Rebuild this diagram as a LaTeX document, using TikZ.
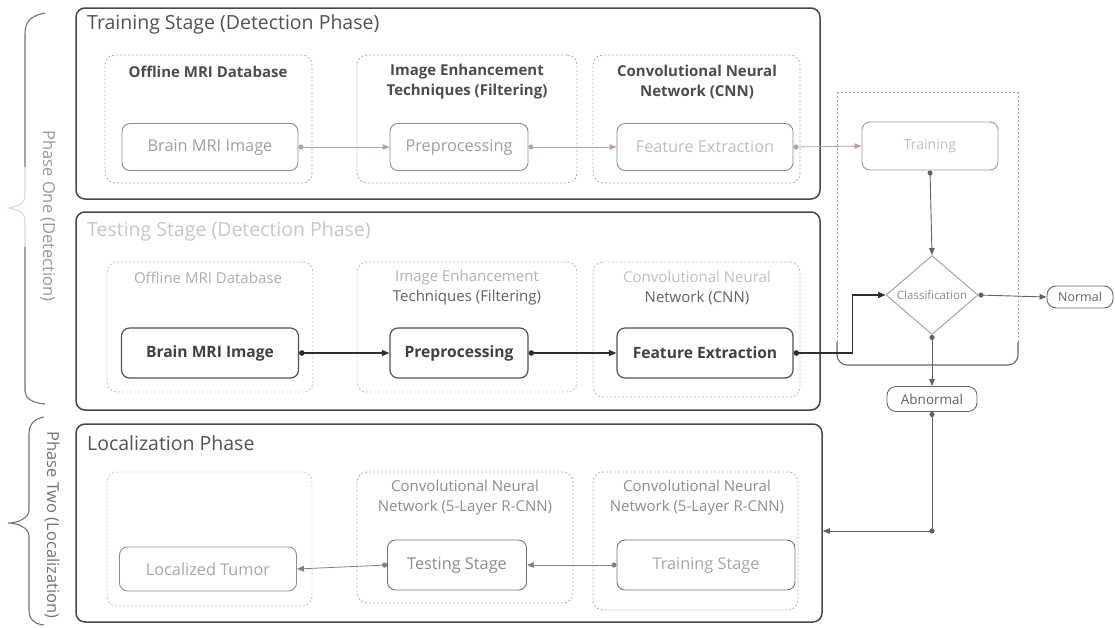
\documentclass[tikz,border=0pt]{standalone}
\usepackage{fontspec}
\setmainfont{Open Sans}
\usetikzlibrary{arrows.meta,shapes.geometric}
\definecolor{pinkline}{RGB}{185,160,172}
\begin{document}
\begin{tikzpicture}[x=1pt,y=-1pt,
  bigbox/.style={draw=black!72, line width=1.5pt, rounded corners=9pt, inner sep=0pt},
  grp/.style={draw=black!30, dash pattern=on 2pt off 2pt, line width=0.9pt, rounded corners=10pt, inner sep=0pt},
  box/.style={draw=black!45, rounded corners=8pt, line width=0.9pt, inner sep=0pt, text=black!38, font=\fontsize{16.3}{19}\selectfont},
  boldbox/.style={draw=black!68, rounded corners=8pt, line width=1.2pt, inner sep=0pt, text=black!75, font=\fontsize{15.6}{19}\selectfont\bfseries},
  maintitle/.style={anchor=west, inner sep=0pt, font=\fontsize{19.5}{22}\selectfont},
  gtitle/.style={align=center, inner sep=0pt, font=\fontsize{15}{20}\selectfont},
  gbtitle/.style={align=center, inner sep=0pt, text=black!70, font=\fontsize{15}{20}\selectfont\bfseries},
  pill/.style={draw=black!60, rounded corners=9pt, line width=0.9pt, inner sep=0pt, text=black!62, font=\fontsize{12.5}{14}\selectfont},
  lightconn/.style={draw=pinkline, line width=0.8pt, {Circle[length=5pt]}-{Triangle[length=7pt,width=5.5pt]}},
  midconn/.style={draw=black!62, line width=0.9pt, {Circle[length=5pt]}-{Triangle[length=7pt,width=5.5pt]}},
  darkconn/.style={draw=black!82, line width=1.2pt, {Circle[length=5.5pt]}-{Triangle[length=7.5pt,width=6pt]}},
  bracestyle/.style={draw=black!55, line width=1.1pt},
  bracelabel/.style={rotate=-90, inner sep=0pt, font=\fontsize{16.5}{19}\selectfont}
]
\useasboundingbox (0,0) rectangle (1115,627);

% ---------- left braces ----------
\draw[bracestyle] (45,13) .. controls (30,16) and (25,22) .. (25,34) -- (25,167);
\draw[bracestyle, draw=black!15] (25,167) -- (25,196) .. controls (25,204) and (15,208) .. (7,208)
  .. controls (15,208) and (25,212) .. (25,220) -- (25,247);
\draw[bracestyle] (25,247) -- (25,391) .. controls (25,398) and (32,403) .. (45,404);
\node[bracelabel, text=black!40] (lab1) at (48,216) {Phase One (Detection)};

\draw[bracestyle] (44,417) .. controls (34,419) and (29,424) .. (29,434) -- (29,510)
  .. controls (29,518) and (18,523) .. (8,523)
  .. controls (18,523) and (29,528) .. (29,536) -- (29,610) .. controls (29,619) and (34,624) .. (44,625);
\node[bracelabel, text=black!55] (lab2) at (52,525) {Phase Two (Localization)};

% ---------- stage boxes ----------
\node[bigbox, minimum width=744pt, minimum height=191pt] (trainbox) at (448,103.5) {};
\node[bigbox, minimum width=744pt, minimum height=198pt] (testbox) at (448,311) {};
\node[bigbox, minimum width=746pt, minimum height=198pt] (loc) at (449,523) {};

\node[maintitle, text=black!68] (t1) at (87,24) {Training Stage (Detection Phase)};
\node[maintitle, text=black!22] (t2) at (87,231) {Testing Stage (Detection Phase)};
\node[maintitle, text=black!68] (t3) at (87,443) {Localization Phase};

% ---------- training row ----------
\node[grp, minimum width=207pt, minimum height=128pt] (g11) at (208.5,119) {};
\node[grp, minimum width=220pt, minimum height=128pt] (g12) at (467,119) {};
\node[grp, minimum width=207pt, minimum height=128pt] (g13) at (696.5,119) {};
\node[gbtitle] (g11t) at (208,72) {Offline MRI Database};
\node[gbtitle] (g12t) at (467,82) {Image Enhancement\\Techniques (Filtering)};
\node[gbtitle] (g13t) at (697,82) {Convolutional Neural\\Network (CNN)};

\node[box, minimum width=176pt, minimum height=47pt] (n11) at (210,147) {Brain MRI Image};
\node[box, minimum width=138pt, minimum height=47pt] (n12) at (459,147) {Preprocessing};
\node[box, minimum width=176pt, minimum height=47pt, text=black!25] (n13) at (705,147) {Feature Extraction};

% ---------- testing row ----------
\node[grp, draw=black!25, minimum width=206pt, minimum height=130pt] (g21) at (210,327) {};
\node[grp, draw=black!25, minimum width=220pt, minimum height=130pt] (g22) at (467,327) {};
\node[grp, draw=black!25, minimum width=207pt, minimum height=135pt] (g23) at (696.5,329.5) {};
\node[gtitle, text=black!32] (g21t) at (208,278) {Offline MRI Database};
\node[gtitle] (g22t) at (467,288) {\textcolor{black!30}{Image Enhancement}\\\textcolor{black!62}{Techniques (Filtering)}};
\node[gtitle] (g23t) at (697,288) {\textcolor{black!25}{Convolutional Neural}\\\textcolor{black!62}{Network (CNN)}};

\node[boldbox, minimum width=177pt, minimum height=50pt] (n21) at (210,353) {Brain MRI Image};
\node[boldbox, minimum width=138pt, minimum height=50pt] (n22) at (459,353) {Preprocessing};
\node[boldbox, minimum width=176pt, minimum height=50pt] (n23) at (705,353) {Feature Extraction};

% ---------- localization row ----------
\node[grp, draw=black!22, minimum width=205pt, minimum height=134pt] (g31) at (209.5,539) {};
\node[grp, minimum width=216pt, minimum height=131pt] (g32) at (465,537.5) {};
\node[grp, minimum width=205pt, minimum height=138pt] (g33) at (695.5,541) {};
\node[gtitle, text=black!45] (g32t) at (465,498) {Convolutional Neural\\Network (5-Layer R-CNN)};
\node[gtitle, text=black!45] (g33t) at (697,498) {Convolutional Neural\\Network (5-Layer R-CNN)};

\node[box, minimum width=177pt, minimum height=44pt, text=black!35] (n31) at (208,569) {Localized Tumor};
\node[box, draw=black!55, minimum width=139pt, minimum height=50pt, text=black!45] (n32) at (457,565) {Testing Stage};
\node[box, draw=black!55, minimum width=178pt, minimum height=50pt, text=black!35] (n33) at (706,565) {Training Stage};

% ---------- right part ----------
\draw[grp, draw=pinkline, rounded corners=0pt] (837,92) -- (1018,92);
\draw[grp, draw=black!35, rounded corners=0pt] (837,92) -- (837,345);
\draw[grp, draw=black!35, rounded corners=0pt] (1018,92) -- (1018,345);
\draw[draw=black!60, line width=1.1pt, rounded corners=10pt] (837,342) -- (837,365) -- (1018,365) -- (1018,342);

\node[box, draw=black!40, minimum width=136pt, minimum height=48pt, text=black!25, font=\fontsize{14}{17}\selectfont] (train) at (930,146) {Training};
\node[diamond, draw=black!38, line width=0.9pt, minimum width=92pt, minimum height=78pt, inner sep=0pt, text=black!45, font=\fontsize{11.5}{13}\selectfont] (cls) at (932,295) {Classification};
\node[pill, minimum width=66pt, minimum height=22pt] (normal) at (1080,297) {Normal};
\node[pill, minimum width=90pt, minimum height=25pt, font=\fontsize{13.5}{15}\selectfont] (abnormal) at (932,399) {Abnormal};
\coordinate (turn) at (932,531);

% ---------- connectors ----------
\draw[lightconn] (n11.east) -- (n12.west);
\draw[lightconn] (n12.east) -- (n13.west);
\draw[lightconn] (n13.east) -- (train.west);
\draw[midconn] (train.south) -- (cls.north);
\draw[midconn] (cls.east) -- (normal.west);
\draw[midconn] (cls.south) -- (abnormal.north);

\draw[darkconn] (n21.east) -- (n22.west);
\draw[darkconn] (n22.east) -- (n23.west);
\draw[darkconn] (n23.east) -- ++(59,0) |- (cls.west);

\draw[midconn] (abnormal.south) -- (turn) -- (loc.east |- turn);
\fill[black!62] (turn) circle (2.6pt);

\draw[lightconn, draw=black!50] (n33.west) -- (n32.east);
\draw[lightconn, draw=black!50] (n32.west) -- (n31.east);
\end{tikzpicture}
\end{document}
